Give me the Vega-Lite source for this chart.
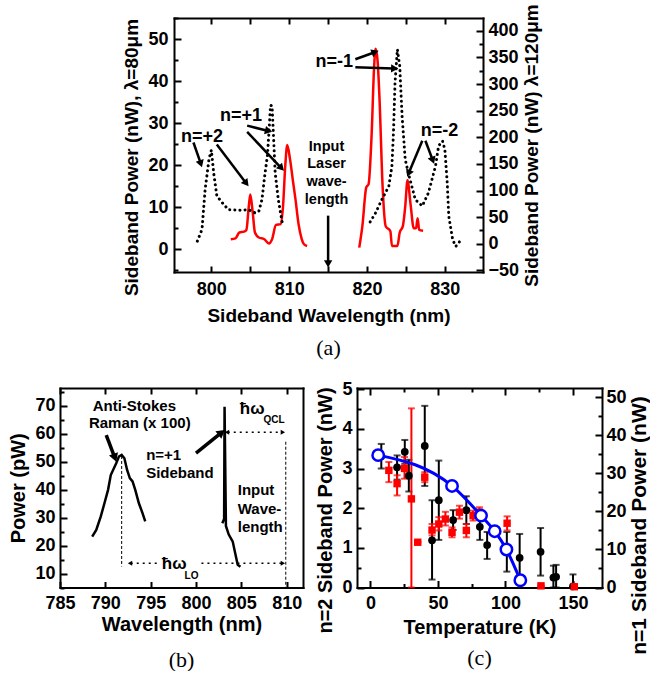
{
"$schema": "https://vega.github.io/schema/vega-lite/v6.json",
"padding": {"left": 8, "top": 3, "right": 0, "bottom": 0},
"background": "white",
"spacing": 21,
"config": {
 "view": {"stroke": null},
 "axis": {"grid": false, "domain": true, "domainColor": "black", "domainWidth": 2, "domainCap": "square", "labelFont": "Liberation Sans", "labelFontWeight": "bold", "labelFontSize": 18, "labelColor": "black", "titleFont": "Liberation Sans", "titleFontWeight": "bold", "titleFontSize": 19, "titleColor": "black", "tickColor": "black", "tickWidth": 2, "labelOverlap": false, "labelFlush": false},
 "title": {"font": "Liberation Serif", "fontWeight": "normal", "fontSize": 22, "color": "black", "frame": "group", "anchor": "middle"},
 "text": {"font": "Liberation Sans", "fontWeight": "bold", "color": "black"}
},
"datasets": {
 "aRed": [
  {"s":1,"w":802.5,"p":2.4},{"s":1,"w":803.1,"p":2.6},{"s":1,"w":803.6,"p":4.0},{"s":1,"w":804.2,"p":4.2},{"s":1,"w":804.5,"p":4.6},{"s":1,"w":804.8,"p":10},{"s":1,"w":805.0,"p":13.0},{"s":1,"w":805.3,"p":9},{"s":1,"w":805.6,"p":4},{"s":1,"w":806.1,"p":2.8},{"s":1,"w":806.8,"p":2.4},{"s":1,"w":807.4,"p":1.4},{"s":1,"w":807.8,"p":2.4},{"s":1,"w":808.3,"p":5.8},{"s":1,"w":808.9,"p":6.0},{"s":1,"w":809.2,"p":10},{"s":1,"w":809.5,"p":20},{"s":1,"w":809.75,"p":24.8},{"s":1,"w":810.1,"p":21.5},{"s":1,"w":810.5,"p":16},{"s":1,"w":810.8,"p":12},{"s":1,"w":811.2,"p":6},{"s":1,"w":811.6,"p":2.5},{"s":1,"w":811.9,"p":1.2},{"s":1,"w":812.3,"p":0.8},
  {"s":2,"w":819.0,"p":0.4},{"s":2,"w":819.4,"p":5.5},{"s":2,"w":819.9,"p":14.7},{"s":2,"w":820.2,"p":15.5},{"s":2,"w":820.6,"p":27.7},{"s":2,"w":820.9,"p":43},{"s":2,"w":821.1,"p":47.7},{"s":2,"w":821.35,"p":45},{"s":2,"w":821.6,"p":36},{"s":2,"w":822.0,"p":15},{"s":2,"w":822.4,"p":5.5},{"s":2,"w":823.0,"p":4.3},{"s":2,"w":823.2,"p":0.8},{"s":2,"w":823.9,"p":0.8},{"s":2,"w":824.2,"p":4.0},{"s":2,"w":824.6,"p":5.5},{"s":2,"w":824.9,"p":10},{"s":2,"w":825.2,"p":16.4},{"s":2,"w":825.6,"p":10.6},{"s":2,"w":826.0,"p":5.0},{"s":2,"w":826.3,"p":5},{"s":2,"w":826.5,"p":7.4},{"s":2,"w":826.7,"p":4.6},{"s":2,"w":827.2,"p":4.4}
 ],
 "aDot": [
  {"s":1,"w":798.2,"p":5},{"s":1,"w":798.8,"p":27},{"s":1,"w":799.2,"p":102},{"s":1,"w":799.7,"p":159},{"s":1,"w":800.0,"p":176},{"s":1,"w":800.3,"p":133},{"s":1,"w":800.7,"p":90},{"s":1,"w":801.4,"p":77},{"s":1,"w":802.2,"p":64},{"s":1,"w":803.9,"p":63},{"s":1,"w":804.8,"p":64},{"s":1,"w":805.6,"p":58},{"s":1,"w":806.1,"p":61},{"s":1,"w":806.5,"p":83},{"s":1,"w":806.9,"p":133},{"s":1,"w":807.2,"p":165},{"s":1,"w":807.4,"p":209},{"s":1,"w":807.6,"p":260},{"s":1,"w":807.8,"p":259},{"s":1,"w":808.0,"p":196},{"s":1,"w":808.2,"p":133},{"s":1,"w":808.6,"p":83},{"s":1,"w":809.1,"p":40},
  {"s":2,"w":820.4,"p":41},{"s":2,"w":821.1,"p":58},{"s":2,"w":821.9,"p":83},{"s":2,"w":822.8,"p":108},{"s":2,"w":823.2,"p":146},{"s":2,"w":823.4,"p":209},{"s":2,"w":823.6,"p":303},{"s":2,"w":823.9,"p":365},{"s":2,"w":824.2,"p":334},{"s":2,"w":824.5,"p":240},{"s":2,"w":824.9,"p":159},{"s":2,"w":825.3,"p":133},{"s":2,"w":826.2,"p":83},{"s":2,"w":827.1,"p":71},{"s":2,"w":827.9,"p":96},{"s":2,"w":828.8,"p":146},{"s":2,"w":829.2,"p":184},{"s":2,"w":829.7,"p":193},{"s":2,"w":830.0,"p":177},{"s":2,"w":830.3,"p":115},{"s":2,"w":830.5,"p":52},{"s":2,"w":831.0,"p":8},{"s":2,"w":831.4,"p":-5},{"s":2,"w":831.8,"p":2},{"s":2,"w":832.2,"p":11}
 ],
 "aArrow": [
  {"x1":797.7,"y1":25.4,"x2":798.6,"y2":20.6,"a":162},
  {"x1":800.7,"y1":24.9,"x2":804.4,"y2":15.9,"a":142},
  {"x1":804.6,"y1":29.4,"x2":807.2,"y2":28.2,"a":104},
  {"x1":804.6,"y1":27.9,"x2":808.9,"y2":19.5,"a":137},
  {"x1":818.5,"y1":45.2,"x2":820.9,"y2":46.8,"a":70},
  {"x1":818.5,"y1":43.3,"x2":823.4,"y2":43.0,"a":91.5},
  {"x1":827.1,"y1":25.8,"x2":825.4,"y2":18.3,"a":203},
  {"x1":827.5,"y1":25.8,"x2":828.4,"y2":21.4,"a":160},
  {"x1":815.0,"y1":8.0,"x2":815.0,"y2":-3.2,"a":180}
 ],
 "aTxtBig": [
  {"x":798.8,"y":26.8,"t":"n=+2"},{"x":803.8,"y":31.7,"t":"n=+1"},{"x":815.8,"y":44.6,"t":"n=-1"},{"x":829.3,"y":28.2,"t":"n=-2"}
 ],
 "aTxtSmall": [
  {"x":814.8,"y":24.4,"t":"Input"},{"x":814.8,"y":20.2,"t":"Laser"},{"x":814.8,"y":15.9,"t":"wave-"},{"x":814.8,"y":11.7,"t":"length"}
 ],
 "bLine": [
  {"s":"r","w":788.55,"p":23.2},{"s":"r","w":789.0,"p":25.6},{"s":"r","w":789.5,"p":30.4},{"s":"r","w":789.9,"p":35.1},{"s":"r","w":790.3,"p":39.9},{"s":"r","w":790.6,"p":45.2},{"s":"r","w":791.2,"p":49.4},{"s":"r","w":791.5,"p":51.8},{"s":"r","w":791.8,"p":52.4},{"s":"r","w":792.1,"p":51.2},{"s":"r","w":792.4,"p":47.0},{"s":"r","w":792.7,"p":44.1},{"s":"r","w":793.0,"p":42.9},{"s":"r","w":793.3,"p":39.9},{"s":"r","w":793.7,"p":35.1},{"s":"r","w":794.1,"p":31.6},{"s":"r","w":794.4,"p":28.6},
  {"s":"b","w":802.9,"p":28.0},{"s":"b","w":803.1,"p":29.5},{"s":"b","w":803.15,"p":69.6},{"s":"b","w":803.3,"p":27},{"s":"b","w":803.6,"p":24},{"s":"b","w":804.05,"p":21.4},{"s":"b","w":804.4,"p":16.1},{"s":"b","w":804.6,"p":13.1},{"s":"b","w":804.9,"p":12.4}
 ],
 "bDash": [
  {"x1":791.8,"y1":52,"x2":791.8,"y2":12.5},{"x1":809.9,"y1":57.1,"x2":809.9,"y2":5}
 ],
 "bDot": [
  {"x1":792.8,"y1":13.7,"x2":796.1,"y2":13.7},{"x1":800.6,"y1":13.7,"x2":809.5,"y2":13.7},{"x1":803.5,"y1":60.5,"x2":809.5,"y2":60.5}
 ],
 "bHead": [
  {"x":792.8,"y":13.7,"a":270},{"x":809.5,"y":13.7,"a":90},{"x":803.5,"y":60.5,"a":270},{"x":809.5,"y":60.5,"a":90}
 ],
 "bArrow": [
  {"x1":790.1,"y1":59.5,"x2":791.0,"y2":51.8,"a":160},{"x1":800.0,"y1":53.0,"x2":802.7,"y2":60.1,"a":51}
 ],
 "bTxtC": [
  {"x":793.2,"y":70.0,"t":"Anti-Stokes"},{"x":793.8,"y":63.7,"t":"Raman (x 100)"}
 ],
 "bTxtL": [
  {"x":794.5,"y":52.4,"t":"n=+1"},{"x":794.5,"y":46.1,"t":"Sideband"},{"x":804.6,"y":39.9,"t":"Input"},{"x":804.6,"y":33.1,"t":"Wave-"},{"x":804.6,"y":26.8,"t":"length"}
 ],
 "bSym": [
  {"x":797.6,"y":13.5,"t":"ħω"},{"x":806.2,"y":68.8,"t":"ħω"}
 ],
 "bSub": [
  {"x":799.5,"y":9.0,"t":"LO"},{"x":808.6,"y":64.9,"t":"QCL"}
 ],
 "cBlack": [
  {"T":8,"v":3.31,"lo":3.0,"hi":3.62},{"T":19.7,"v":3.03,"lo":2.72,"hi":3.33},{"T":25.4,"v":3.42,"lo":3.12,"hi":3.72},{"T":28.4,"v":2.82,"lo":2.42,"hi":3.22},{"T":40.2,"v":3.57,"lo":2.56,"hi":4.58},{"T":45.6,"v":1.19,"lo":0.2,"hi":2.2},{"T":50.6,"v":2.2,"lo":1.2,"hi":3.2},{"T":61.2,"v":1.7,"lo":1.45,"hi":1.95},{"T":71,"v":1.95,"lo":1.6,"hi":2.3},{"T":81,"v":1.53,"lo":1.2,"hi":1.85},{"T":86.4,"v":1.07,"lo":0.72,"hi":1.4},{"T":101,"v":0.9,"lo":0.4,"hi":1.4},{"T":110.5,"v":0.75,"lo":0.15,"hi":1.35},{"T":126,"v":0.9,"lo":0.3,"hi":1.5},{"T":135.5,"v":0.25,"lo":0.0,"hi":0.55},{"T":137.5,"v":0.27,"lo":0.0,"hi":0.57},{"T":150,"v":0.03,"lo":0.0,"hi":0.33}
 ],
 "cRed": [
  {"T":13.6,"v":30.8,"lo":27.7,"hi":33.0},{"T":19.7,"v":27.3,"lo":24.2,"hi":29.5},{"T":25.2,"v":31.3,"lo":28.6,"hi":34.3},{"T":30.3,"v":23.3,"lo":0,"hi":47.1},{"T":35,"v":11.9,"lo":11.9,"hi":11.9},{"T":40.2,"v":29.0,"lo":27.7,"hi":30.3},{"T":45.6,"v":15.1,"lo":13.7,"hi":16.7},{"T":50.6,"v":16.7,"lo":15,"hi":18.5},{"T":55.5,"v":18.0,"lo":16.3,"hi":19.9},{"T":60.4,"v":14.5,"lo":13.2,"hi":15.8},{"T":65.9,"v":19.8,"lo":18.1,"hi":21.5},{"T":71,"v":15,"lo":13.2,"hi":16.7},{"T":76,"v":18.9,"lo":17.6,"hi":20.2},{"T":80.7,"v":19.8,"lo":18.5,"hi":21.1},{"T":101.2,"v":16.9,"lo":15,"hi":18.7},{"T":126.3,"v":0.44,"lo":0.44,"hi":0.44},{"T":151,"v":0.2,"lo":0.2,"hi":0.2}
 ],
 "cBlue": [
  {"T":5.7,"v":34.8},{"T":60.4,"v":26.7},{"T":81.9,"v":18.9},{"T":92,"v":14.8},{"T":100.7,"v":10.0},{"T":111,"v":1.9}
 ]
},
"vconcat": [
 {"bounds": "flush", "spacing": 0, "hconcat": [
  {"width": 114, "height": 10, "data": {"values": [{"k": 0}]}, "mark": {"type": "point", "opacity": 0}},
  {"width": 309, "height": 254,
   "title": {"text": "(a)", "orient": "bottom", "offset": 13},
   "resolve": {"scale": {"y": "independent"}, "axis": {"x": "independent", "y": "independent"}},
   "layer": [
    {"data": {"name": "aRed"}, "mark": {"type": "line", "color": "#ff0000", "strokeWidth": 2.5, "interpolate": "monotone"},
     "encoding": {
      "x": {"field": "w", "type": "quantitative", "scale": {"domain": [795.2, 834.9], "nice": false, "zero": false}, "axis": {"orient": "bottom", "title": "Sideband Wavelength (nm)", "values": [795,800,805,810,815,820,825,830,835], "labelExpr": "datum.value % 10 == 0 ? datum.label : ''", "tickSize": -6, "labelPadding": 14, "titlePadding": 8}},
      "y": {"field": "p", "type": "quantitative", "scale": {"domain": [-5.4, 55], "nice": false, "zero": false}, "axis": {"orient": "left", "title": "Sideband Power (nW), λ=80μm", "titleY": 139, "values": [-5,0,5,10,15,20,25,30,35,40,45,50,55], "labelExpr": "datum.value % 10 == 0 ? datum.label : ''", "tickSize": {"condition": {"test": "datum.value % 10 == 0", "value": -7}, "value": -4}, "labelPadding": 13, "titlePadding": 6}},
      "detail": {"field": "s", "type": "nominal"}
     }},
    {"data": {"name": "aDot"}, "mark": {"type": "line", "color": "black", "strokeWidth": 3, "strokeDash": [0.1, 5], "strokeCap": "round"},
     "encoding": {
      "x": {"field": "w", "type": "quantitative", "scale": {"domain": [795.2, 834.9], "nice": false, "zero": false}, "axis": null},
      "y": {"field": "p", "type": "quantitative", "scale": {"domain": [-53, 424], "nice": false, "zero": false}, "axis": {"orient": "right", "title": "Sideband Power (nW) λ=120μm", "titleAngle": 270, "titleBaseline": "top", "values": [-50,-25,0,25,50,75,100,125,150,175,200,225,250,275,300,325,350,375,400], "labelExpr": "datum.value % 50 == 0 ? datum.label : ''", "tickSize": {"condition": {"test": "datum.value % 50 == 0", "value": -7}, "value": -4}, "labelPadding": 12, "titlePadding": 4}},
      "detail": {"field": "s", "type": "nominal"}
     }},
    {"data": {"name": "aRed"}, "mark": {"type": "line", "opacity": 0},
     "encoding": {
      "x": {"field": "w", "type": "quantitative", "scale": {"domain": [795.2, 834.9], "nice": false, "zero": false}, "axis": {"orient": "top", "title": null, "labels": false, "values": [795,800,805,810,815,820,825,830,835], "tickSize": -6}},
      "y": {"field": "p", "type": "quantitative", "scale": {"domain": [-5.4, 55], "nice": false, "zero": false}, "axis": null},
      "detail": {"field": "s", "type": "nominal"}
     }},
    {"data": {"name": "aArrow"}, "mark": {"type": "rule", "color": "black", "strokeWidth": 2.5},
     "encoding": {
      "x": {"field": "x1", "type": "quantitative", "scale": {"domain": [795.2, 834.9], "nice": false, "zero": false}, "axis": null},
      "x2": {"field": "x2"},
      "y": {"field": "y1", "type": "quantitative", "scale": {"domain": [-5.4, 55], "nice": false, "zero": false}, "axis": null},
      "y2": {"field": "y2"}
     }},
    {"data": {"name": "aArrow"}, "mark": {"type": "point", "shape": "triangle", "filled": true, "color": "black", "size": 70, "opacity": 1},
     "encoding": {
      "x": {"field": "x2", "type": "quantitative", "scale": {"domain": [795.2, 834.9], "nice": false, "zero": false}, "axis": null},
      "y": {"field": "y2", "type": "quantitative", "scale": {"domain": [-5.4, 55], "nice": false, "zero": false}, "axis": null},
      "angle": {"field": "a", "type": "quantitative", "scale": null}
     }},
    {"data": {"name": "aTxtBig"}, "mark": {"type": "text", "fontSize": 18, "align": "center", "baseline": "middle"},
     "encoding": {
      "x": {"field": "x", "type": "quantitative", "scale": {"domain": [795.2, 834.9], "nice": false, "zero": false}, "axis": null},
      "y": {"field": "y", "type": "quantitative", "scale": {"domain": [-5.4, 55], "nice": false, "zero": false}, "axis": null},
      "text": {"field": "t"}
     }},
    {"data": {"name": "aTxtSmall"}, "mark": {"type": "text", "fontSize": 14.5, "align": "center", "baseline": "middle"},
     "encoding": {
      "x": {"field": "x", "type": "quantitative", "scale": {"domain": [795.2, 834.9], "nice": false, "zero": false}, "axis": null},
      "y": {"field": "y", "type": "quantitative", "scale": {"domain": [-5.4, 55], "nice": false, "zero": false}, "axis": null},
      "text": {"field": "t"}
     }}
   ]}
 ]},
 {"bounds": "flush", "spacing": 54, "hconcat": [
  {"width": 243, "height": 199.5,
   "title": {"text": "(b)", "orient": "bottom", "offset": 15},
   "resolve": {"axis": {"x": "independent", "y": "independent"}},
   "layer": [
    {"data": {"name": "bLine"}, "mark": {"type": "line", "color": "black", "strokeWidth": 2.5},
     "encoding": {
      "x": {"field": "w", "type": "quantitative", "scale": {"domain": [785, 811.8], "nice": false, "zero": false}, "axis": {"orient": "bottom", "title": "Wavelength (nm)", "titleFontSize": 20, "values": [785,790,795,800,805,810], "tickSize": -6, "labelPadding": 13, "titlePadding": 2}},
      "y": {"field": "p", "type": "quantitative", "scale": {"domain": [5, 76.3], "nice": false, "zero": false}, "axis": {"orient": "left", "title": "Power (pW)", "titleFontSize": 20, "values": [5,10,15,20,25,30,35,40,45,50,55,60,65,70,75], "labelExpr": "datum.value % 10 == 0 ? datum.label : ''", "tickSize": {"condition": {"test": "datum.value % 10 == 0", "value": -7}, "value": -4}, "labelPadding": 12, "titlePadding": 6}},
      "detail": {"field": "s", "type": "nominal"}
     }},
    {"data": {"name": "bLine"}, "mark": {"type": "line", "opacity": 0},
     "encoding": {
      "x": {"field": "w", "type": "quantitative", "scale": {"domain": [785, 811.8], "nice": false, "zero": false}, "axis": {"orient": "top", "title": null, "labels": false, "values": [785,790,795,800,805,810], "tickSize": -6}},
      "y": {"field": "p", "type": "quantitative", "scale": {"domain": [5, 76.3], "nice": false, "zero": false}, "axis": {"orient": "right", "title": null, "labels": false, "ticks": false}},
      "detail": {"field": "s", "type": "nominal"}
     }},
    {"data": {"name": "bDash"}, "mark": {"type": "rule", "color": "black", "strokeWidth": 1, "strokeDash": [3, 2]},
     "encoding": {
      "x": {"field": "x1", "type": "quantitative", "scale": {"domain": [785, 811.8], "nice": false, "zero": false}, "axis": null},
      "x2": {"field": "x2"},
      "y": {"field": "y1", "type": "quantitative", "scale": {"domain": [5, 76.3], "nice": false, "zero": false}, "axis": null},
      "y2": {"field": "y2"}
     }},
    {"data": {"name": "bDot"}, "mark": {"type": "rule", "color": "black", "strokeWidth": 1.5, "strokeDash": [2, 4]},
     "encoding": {
      "x": {"field": "x1", "type": "quantitative", "scale": {"domain": [785, 811.8], "nice": false, "zero": false}, "axis": null},
      "x2": {"field": "x2"},
      "y": {"field": "y1", "type": "quantitative", "scale": {"domain": [5, 76.3], "nice": false, "zero": false}, "axis": null},
      "y2": {"field": "y2"}
     }},
    {"data": {"name": "bHead"}, "mark": {"type": "point", "shape": "triangle", "filled": true, "color": "black", "size": 25, "opacity": 1},
     "encoding": {
      "x": {"field": "x", "type": "quantitative", "scale": {"domain": [785, 811.8], "nice": false, "zero": false}, "axis": null},
      "y": {"field": "y", "type": "quantitative", "scale": {"domain": [5, 76.3], "nice": false, "zero": false}, "axis": null},
      "angle": {"field": "a", "type": "quantitative", "scale": null}
     }},
    {"data": {"name": "bArrow"}, "mark": {"type": "rule", "color": "black", "strokeWidth": 3.5},
     "encoding": {
      "x": {"field": "x1", "type": "quantitative", "scale": {"domain": [785, 811.8], "nice": false, "zero": false}, "axis": null},
      "x2": {"field": "x2"},
      "y": {"field": "y1", "type": "quantitative", "scale": {"domain": [5, 76.3], "nice": false, "zero": false}, "axis": null},
      "y2": {"field": "y2"}
     }},
    {"data": {"name": "bArrow"}, "mark": {"type": "point", "shape": "triangle", "filled": true, "color": "black", "size": 90, "opacity": 1},
     "encoding": {
      "x": {"field": "x2", "type": "quantitative", "scale": {"domain": [785, 811.8], "nice": false, "zero": false}, "axis": null},
      "y": {"field": "y2", "type": "quantitative", "scale": {"domain": [5, 76.3], "nice": false, "zero": false}, "axis": null},
      "angle": {"field": "a", "type": "quantitative", "scale": null}
     }},
    {"data": {"name": "bTxtC"}, "mark": {"type": "text", "fontSize": 15, "align": "center", "baseline": "middle"},
     "encoding": {
      "x": {"field": "x", "type": "quantitative", "scale": {"domain": [785, 811.8], "nice": false, "zero": false}, "axis": null},
      "y": {"field": "y", "type": "quantitative", "scale": {"domain": [5, 76.3], "nice": false, "zero": false}, "axis": null},
      "text": {"field": "t"}
     }},
    {"data": {"name": "bTxtL"}, "mark": {"type": "text", "fontSize": 15, "align": "left", "baseline": "middle"},
     "encoding": {
      "x": {"field": "x", "type": "quantitative", "scale": {"domain": [785, 811.8], "nice": false, "zero": false}, "axis": null},
      "y": {"field": "y", "type": "quantitative", "scale": {"domain": [5, 76.3], "nice": false, "zero": false}, "axis": null},
      "text": {"field": "t"}
     }},
    {"data": {"name": "bSym"}, "mark": {"type": "text", "fontSize": 17, "align": "center", "baseline": "middle"},
     "encoding": {
      "x": {"field": "x", "type": "quantitative", "scale": {"domain": [785, 811.8], "nice": false, "zero": false}, "axis": null},
      "y": {"field": "y", "type": "quantitative", "scale": {"domain": [5, 76.3], "nice": false, "zero": false}, "axis": null},
      "text": {"field": "t"}
     }},
    {"data": {"name": "bSub"}, "mark": {"type": "text", "fontSize": 10, "align": "center", "baseline": "middle"},
     "encoding": {
      "x": {"field": "x", "type": "quantitative", "scale": {"domain": [785, 811.8], "nice": false, "zero": false}, "axis": null},
      "y": {"field": "y", "type": "quantitative", "scale": {"domain": [5, 76.3], "nice": false, "zero": false}, "axis": null},
      "text": {"field": "t"}
     }}
   ]},
  {"width": 245, "height": 199.5,
   "title": {"text": "(c)", "orient": "bottom", "offset": -6},
   "resolve": {"scale": {"y": "independent"}, "axis": {"x": "independent", "y": "independent"}},
   "layer": [
    {"data": {"name": "cBlack"}, "mark": {"type": "rule", "color": "black", "strokeWidth": 2},
     "encoding": {
      "x": {"field": "T", "type": "quantitative", "scale": {"domain": [-10, 171.5], "nice": false, "zero": false}, "axis": null},
      "y": {"field": "lo", "type": "quantitative", "scale": {"domain": [0, 5.03], "nice": false, "zero": false}, "axis": null},
      "y2": {"field": "hi"}
     }},
    {"data": {"name": "cBlack"}, "mark": {"type": "tick", "orient": "horizontal", "color": "black", "size": 7, "thickness": 2},
     "encoding": {
      "x": {"field": "T", "type": "quantitative", "scale": {"domain": [-10, 171.5], "nice": false, "zero": false}, "axis": null},
      "y": {"field": "hi", "type": "quantitative", "scale": {"domain": [0, 5.03], "nice": false, "zero": false}, "axis": null}
     }},
    {"data": {"name": "cBlack"}, "mark": {"type": "tick", "orient": "horizontal", "color": "black", "size": 7, "thickness": 2},
     "encoding": {
      "x": {"field": "T", "type": "quantitative", "scale": {"domain": [-10, 171.5], "nice": false, "zero": false}, "axis": null},
      "y": {"field": "lo", "type": "quantitative", "scale": {"domain": [0, 5.03], "nice": false, "zero": false}, "axis": null}
     }},
    {"data": {"name": "cRed"}, "mark": {"type": "rule", "color": "#ff0000", "strokeWidth": 2},
     "encoding": {
      "x": {"field": "T", "type": "quantitative", "scale": {"domain": [-10, 171.5], "nice": false, "zero": false}, "axis": null},
      "y": {"field": "lo", "type": "quantitative", "scale": {"domain": [0, 52.45], "nice": false, "zero": false}, "axis": null},
      "y2": {"field": "hi"}
     }},
    {"data": {"name": "cRed"}, "mark": {"type": "tick", "orient": "horizontal", "color": "#ff0000", "size": 7, "thickness": 2},
     "encoding": {
      "x": {"field": "T", "type": "quantitative", "scale": {"domain": [-10, 171.5], "nice": false, "zero": false}, "axis": null},
      "y": {"field": "hi", "type": "quantitative", "scale": {"domain": [0, 52.45], "nice": false, "zero": false}, "axis": null}
     }},
    {"data": {"name": "cRed"}, "mark": {"type": "tick", "orient": "horizontal", "color": "#ff0000", "size": 7, "thickness": 2},
     "encoding": {
      "x": {"field": "T", "type": "quantitative", "scale": {"domain": [-10, 171.5], "nice": false, "zero": false}, "axis": null},
      "y": {"field": "lo", "type": "quantitative", "scale": {"domain": [0, 52.45], "nice": false, "zero": false}, "axis": null}
     }},
    {"data": {"name": "cBlack"}, "mark": {"type": "point", "shape": "circle", "filled": true, "color": "black", "size": 60, "opacity": 1},
     "encoding": {
      "x": {"field": "T", "type": "quantitative", "scale": {"domain": [-10, 171.5], "nice": false, "zero": false}, "axis": {"orient": "bottom", "title": "Temperature (K)", "titleFontSize": 20, "values": [0,25,50,75,100,125,150], "labelExpr": "datum.value % 50 == 0 ? datum.label : ''", "tickSize": {"condition": {"test": "datum.value % 50 == 0", "value": -7}, "value": -4}, "labelPadding": 14, "titlePadding": 2}},
      "y": {"field": "v", "type": "quantitative", "scale": {"domain": [0, 5.03], "nice": false, "zero": false}, "axis": {"orient": "left", "title": "n=2 Sideband Power (nW)", "titleFontSize": 20, "titleY": 122, "format": "~g", "values": [0,0.5,1,1.5,2,2.5,3,3.5,4,4.5,5], "labelExpr": "datum.value % 1 == 0 ? datum.label : ''", "tickSize": {"condition": {"test": "datum.value % 1 == 0", "value": -7}, "value": -4}, "labelPadding": 12, "titlePadding": 6}}
     }},
    {"data": {"name": "cRed"}, "mark": {"type": "point", "shape": "square", "filled": true, "color": "#ff0000", "size": 55, "opacity": 1},
     "encoding": {
      "x": {"field": "T", "type": "quantitative", "scale": {"domain": [-10, 171.5], "nice": false, "zero": false}, "axis": null},
      "y": {"field": "v", "type": "quantitative", "scale": {"domain": [0, 52.45], "nice": false, "zero": false}, "axis": {"orient": "right", "title": "n=1 Sideband Power (nW)", "titleFontSize": 21, "titleAngle": 270, "titleBaseline": "top", "titleY": 137, "values": [0,5,10,15,20,25,30,35,40,45,50], "labelExpr": "datum.value % 10 == 0 ? datum.label : ''", "tickSize": {"condition": {"test": "datum.value % 10 == 0", "value": -7}, "value": -4}, "labelPadding": 11, "titlePadding": 2}}
     }},
    {"data": {"name": "cBlue"}, "mark": {"type": "line", "color": "#0000ff", "strokeWidth": 3, "interpolate": "monotone"},
     "encoding": {
      "x": {"field": "T", "type": "quantitative", "scale": {"domain": [-10, 171.5], "nice": false, "zero": false}, "axis": null},
      "y": {"field": "v", "type": "quantitative", "scale": {"domain": [0, 52.45], "nice": false, "zero": false}, "axis": null}
     }},
    {"data": {"name": "cBlue"}, "mark": {"type": "point", "shape": "circle", "filled": true, "fill": "white", "stroke": "#0000ff", "strokeWidth": 2.5, "size": 130, "opacity": 1},
     "encoding": {
      "x": {"field": "T", "type": "quantitative", "scale": {"domain": [-10, 171.5], "nice": false, "zero": false}, "axis": null},
      "y": {"field": "v", "type": "quantitative", "scale": {"domain": [0, 52.45], "nice": false, "zero": false}, "axis": null}
     }},
    {"data": {"name": "cBlue"}, "mark": {"type": "line", "opacity": 0},
     "encoding": {
      "x": {"field": "T", "type": "quantitative", "scale": {"domain": [-10, 171.5], "nice": false, "zero": false}, "axis": {"orient": "top", "title": null, "labels": false, "values": [0,25,50,75,100,125,150], "tickSize": {"condition": {"test": "datum.value % 50 == 0", "value": -7}, "value": -4}}},
      "y": {"field": "v", "type": "quantitative", "scale": {"domain": [0, 52.45], "nice": false, "zero": false}, "axis": null}
     }}
   ]}
 ]}
]
}
